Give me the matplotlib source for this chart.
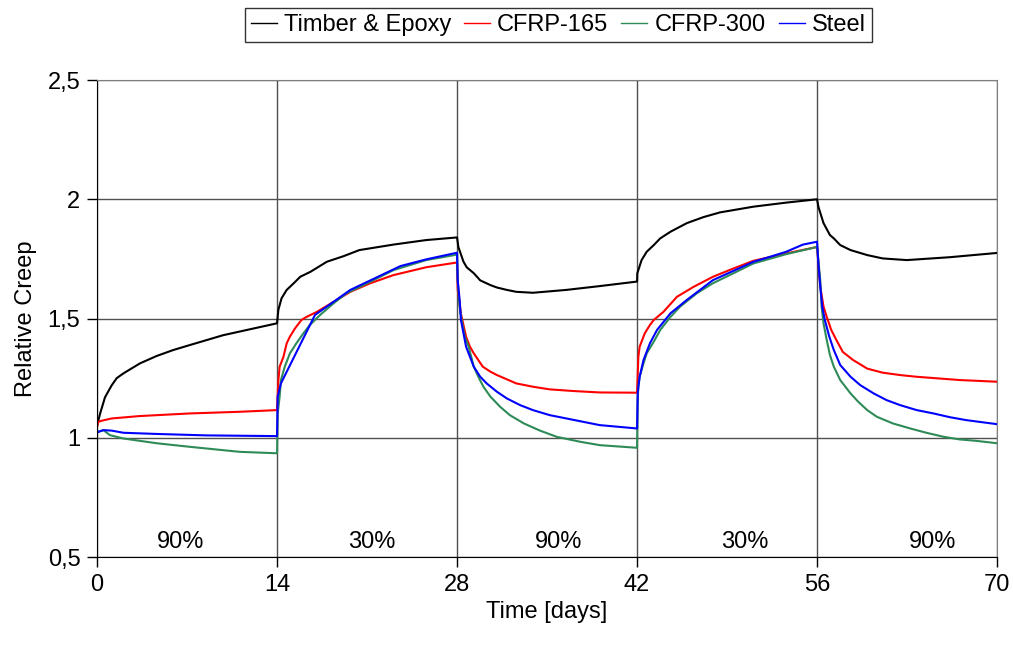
import numpy as np
import matplotlib
matplotlib.use("Agg")
import matplotlib.pyplot as plt

plt.rcParams["font.family"] = ["Liberation Sans", "DejaVu Sans"]

# --- values (day, relative creep) ------------------------------------------------------
timber_day = [0, 0.23, 0.62, 1.14, 1.53, 2.05, 3.34, 4.64, 5.93, 7.23, 9.8, 14.0,
              14.1, 14.35, 14.75, 15.3, 15.8, 16.6, 17.87, 19.2, 20.4, 23.05, 25.6, 28.0,
              28.1, 28.5, 28.75, 29.3, 29.8, 30.6, 31.1, 31.87, 32.6, 33.9, 36.5, 39.1, 42.0,
              42.02, 42.35, 42.75, 43.3, 43.8, 44.6, 45.87, 47.15, 48.45, 51.05, 53.6, 56.0,
              56.1, 56.5, 57.0, 57.3, 57.8, 58.6, 59.9, 61.1, 62.97, 66.3, 70.0]
timber_val = [1.05, 1.10, 1.17, 1.22, 1.25, 1.27, 1.312, 1.343, 1.368, 1.389, 1.43, 1.48,
              1.536, 1.585, 1.62, 1.648, 1.675, 1.696, 1.738, 1.762, 1.787, 1.81, 1.829, 1.84,
              1.80, 1.738, 1.715, 1.69, 1.66, 1.64, 1.63, 1.62, 1.612, 1.608, 1.62, 1.636, 1.655,
              1.69, 1.745, 1.78, 1.808, 1.836, 1.864, 1.90, 1.925, 1.945, 1.969, 1.986, 2.0,
              1.969, 1.90, 1.85, 1.836, 1.808, 1.787, 1.766, 1.752, 1.745, 1.757, 1.775]

cfrp165_day = [0, 0.1, 0.4, 1.14, 3.3, 7.2, 11.1, 14.0,
               14.1, 14.2, 14.5, 14.75, 15.0, 15.4, 15.9, 16.3, 17.1, 18.4, 19.7, 21.25,
               23.05, 25.6, 28.0,
               28.05, 28.2, 28.3, 28.7, 29.0, 29.3, 30.0, 30.6, 31.1, 32.6, 33.9, 35.2,
               37.05, 39.1, 42.0,
               42.1, 42.2, 42.6, 43.0, 43.3, 44.05, 45.1, 46.4, 47.9, 49.5, 51.05, 53.6, 56.0,
               56.25, 56.5, 56.75, 57.1, 57.5, 58.0, 58.8, 59.9, 61.1, 62.45, 63.7, 67.1, 70.0]
cfrp165_val = [1.046, 1.067, 1.072, 1.081, 1.091, 1.102, 1.109, 1.116,
               1.24, 1.298, 1.34, 1.396, 1.424, 1.459, 1.494, 1.507, 1.528, 1.57, 1.612, 1.648,
               1.682, 1.715, 1.735,
               1.62, 1.564, 1.52, 1.424, 1.382, 1.354, 1.298, 1.277, 1.263, 1.228, 1.214, 1.203,
               1.196, 1.19, 1.189,
               1.34, 1.382, 1.438, 1.473, 1.494, 1.528, 1.591, 1.633, 1.675, 1.71, 1.742, 1.773, 1.80,
               1.633, 1.55, 1.507, 1.452, 1.41, 1.36, 1.326, 1.29, 1.273, 1.263, 1.256, 1.242, 1.235]

cfrp300_day = [0, 0.1, 0.5, 1.0, 2.05, 4.64, 7.23, 11.1, 14.0,
               14.05, 14.2, 14.3, 14.6, 15.0, 15.5, 16.05, 16.55, 17.35, 18.4, 19.4, 21.25,
               23.05, 25.6, 28.0,
               28.05, 28.2, 28.35, 28.6, 28.9, 29.3, 29.65, 30.05, 30.6, 31.35, 32.1, 33.2,
               34.45, 35.75, 37.6, 39.1, 42.0,
               42.05, 42.1, 42.2, 42.5, 42.75, 43.3, 43.8, 44.6, 45.35, 46.65, 47.9, 49.5,
               51.05, 53.6, 56.0,
               56.25, 56.35, 56.5, 56.75, 57.0, 57.3, 57.8, 58.6, 59.2, 59.9, 60.65, 61.9,
               63.25, 64.5, 65.85, 67.1, 68.4, 70.0]
cfrp300_val = [1.02, 1.025, 1.032, 1.011, 0.997, 0.977, 0.962, 0.941, 0.935,
               1.102, 1.172, 1.242, 1.298, 1.354, 1.396, 1.438, 1.473, 1.515, 1.564, 1.606, 1.654,
               1.703, 1.745, 1.768,
               1.66, 1.55, 1.494, 1.424, 1.382, 1.298, 1.256, 1.214, 1.172, 1.13, 1.095, 1.06,
               1.03, 1.004, 0.983, 0.969, 0.958,
               1.158, 1.214, 1.256, 1.312, 1.354, 1.403, 1.452, 1.507, 1.55, 1.606, 1.648, 1.69,
               1.731, 1.77, 1.80,
               1.66, 1.55, 1.48, 1.41, 1.347, 1.298, 1.242, 1.186, 1.151, 1.116, 1.088, 1.06,
               1.039, 1.021, 1.004, 0.993, 0.987, 0.977]

steel_day = [0, 0.1, 0.5, 1.14, 2.05, 4.64, 8.5, 14.0,
             14.05, 14.3, 16.95, 19.7, 23.6, 25.6, 28.0,
             28.05, 28.2, 28.3, 28.5, 28.7, 29.0, 29.3, 29.8, 30.3, 31.1, 31.87, 32.9, 33.9,
             35.2, 36.5, 39.1, 42.0,
             42.05, 42.1, 42.2, 42.5, 43.0, 43.55, 44.6, 45.87, 46.9, 47.9, 49.5, 51.05,
             52.35, 53.6, 54.9, 56.0,
             56.1, 56.25, 56.4, 56.6, 56.95, 57.3, 57.8, 58.6, 59.35, 60.4, 61.4, 62.45,
             63.75, 65.05, 66.35, 67.6, 70.0]
steel_val = [1.02, 1.025, 1.032, 1.03, 1.021, 1.016, 1.01, 1.007,
             1.172, 1.228, 1.515, 1.62, 1.72, 1.748, 1.776,
             1.66, 1.578, 1.494, 1.438, 1.382, 1.34, 1.298, 1.256, 1.228, 1.193, 1.165, 1.137,
             1.116, 1.095, 1.081, 1.053, 1.039,
             1.186, 1.214, 1.256, 1.326, 1.396, 1.452, 1.522, 1.578, 1.62, 1.661, 1.70, 1.738,
             1.759, 1.78, 1.81, 1.822,
             1.73, 1.633, 1.55, 1.494, 1.424, 1.368, 1.305, 1.256, 1.221, 1.186, 1.158, 1.137,
             1.116, 1.102, 1.086, 1.074, 1.057]

series_names = ["Timber & Epoxy", "CFRP-165", "CFRP-300", "Steel"]
series_colors = ["black", "#ff0000", "#2e8b57", "#0000ff"]

load_labels = ["90%", "30%", "90%", "30%", "90%"]
load_label_day = [6.5, 21.4, 35.9, 50.4, 65.0]

x_ticks = [0, 14, 28, 42, 56, 70]
y_ticks = [0.5, 1.0, 1.5, 2.0, 2.5]
y_tick_labels = ["0,5", "1", "1,5", "2", "2,5"]

FS = 17

fig = plt.figure(figsize=(10.13, 6.48), dpi=100)
ax = fig.add_axes([0.0958, 0.1404, 0.8885, 0.7361])

data = [(timber_day, timber_val), (cfrp165_day, cfrp165_val),
        (cfrp300_day, cfrp300_val), (steel_day, steel_val)]
for (d, v), name, c in zip(data, series_names, series_colors):
    ax.plot(d, v, color=c, lw=1.5, label=name)

ax.set_xlim(0, 70); ax.set_ylim(0.5, 2.5)
ax.set_xticks(x_ticks)
ax.set_yticks(y_ticks)
ax.set_yticklabels(y_tick_labels)
ax.tick_params(direction="out", length=7, width=1, labelsize=FS, pad=5)
ax.grid(True, color="#505050", lw=1)
ax.set_axisbelow(True)
for s in ["top", "right"]:
    ax.spines[s].set_color("#808080")
ax.spines["left"].set_color("black"); ax.spines["bottom"].set_color("black")

for lab, d in zip(load_labels, load_label_day):
    ax.text(d, 0.565, lab, ha="center", va="center", fontsize=FS)

ax.set_xlabel("Time [days]", fontsize=FS, labelpad=4)
ax.set_ylabel("Relative Creep", fontsize=FS, labelpad=8)

leg = fig.legend(loc="center", bbox_to_anchor=(0.551, 0.961), ncol=4, fontsize=FS,
                 frameon=True, fancybox=False, edgecolor="black", handlelength=1.1,
                 handletextpad=0.3, columnspacing=0.55, borderpad=0.25)
leg.get_frame().set_linewidth(1)
for h in leg.get_lines():
    h.set_linewidth(1)

fig.savefig("out.png", dpi=100, facecolor="white")
